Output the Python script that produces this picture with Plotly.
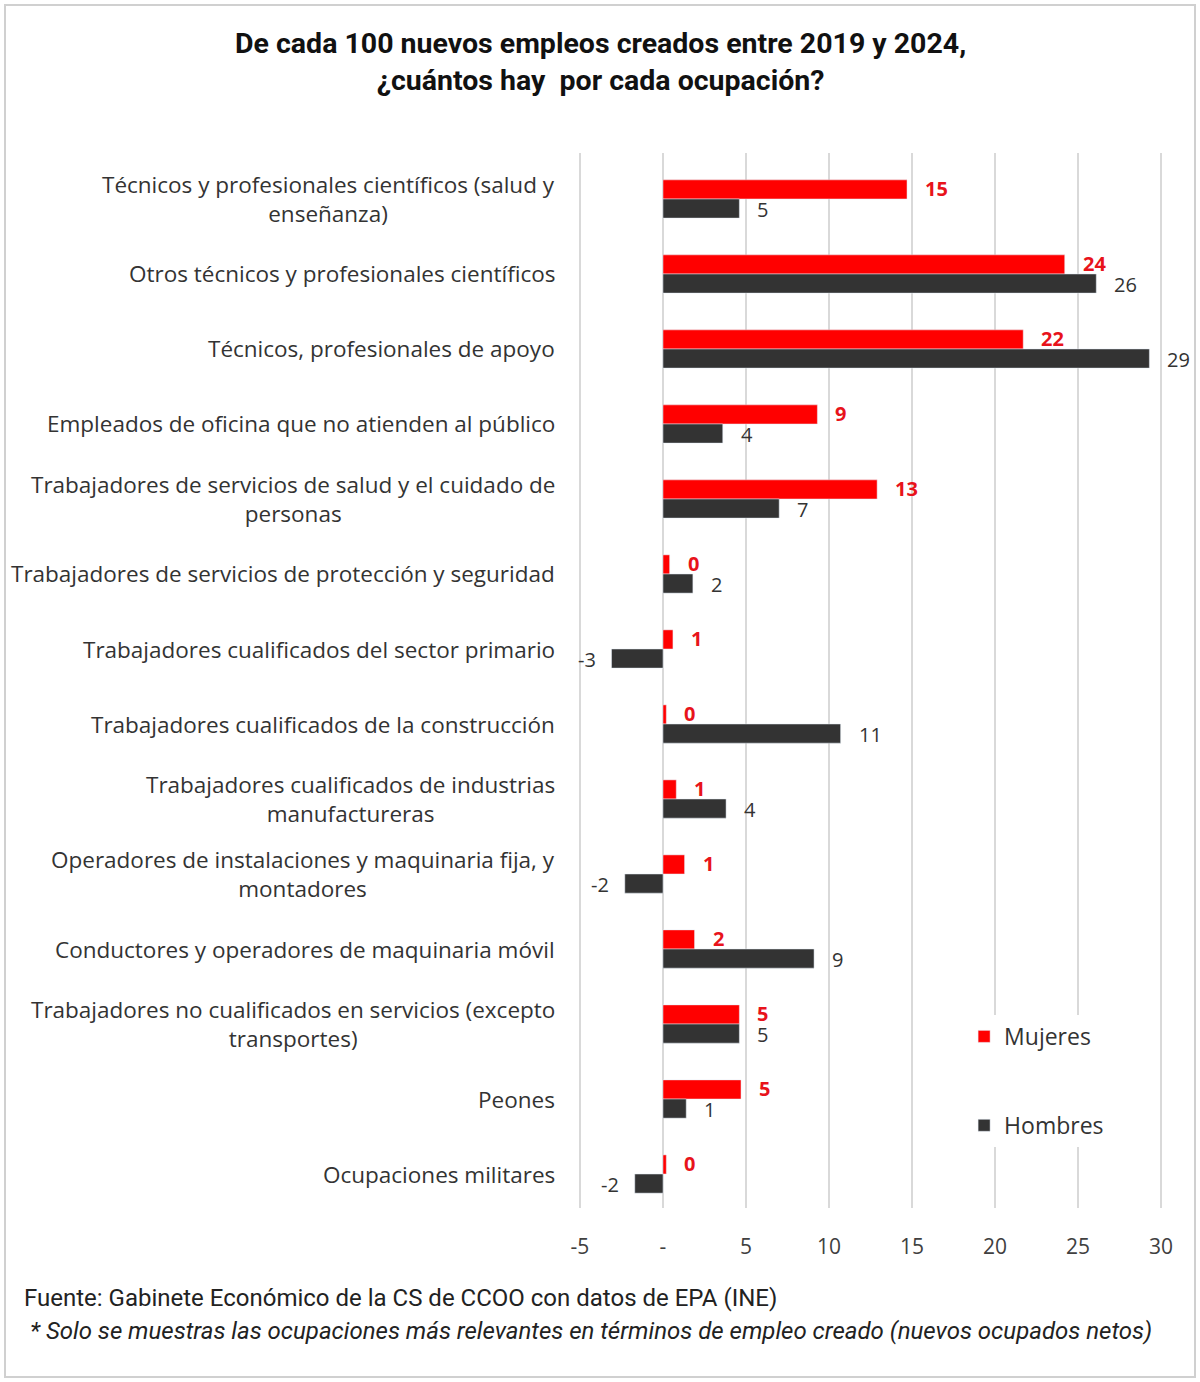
import plotly.graph_objects as go

categorias = [
    "Técnicos y profesionales científicos (salud y<br>enseñanza)",
    "Otros técnicos y profesionales científicos",
    "Técnicos, profesionales de apoyo",
    "Empleados de oficina que no atienden al público",
    "Trabajadores de servicios de salud y el cuidado de<br>personas",
    "Trabajadores de servicios de protección y seguridad",
    "Trabajadores cualificados del sector primario",
    "Trabajadores cualificados de la construcción",
    "Trabajadores cualificados de industrias<br>manufactureras",
    "Operadores de instalaciones y maquinaria fija, y<br>montadores",
    "Conductores y operadores de maquinaria móvil",
    "Trabajadores no cualificados en servicios (excepto<br>transportes)",
    "Peones",
    "Ocupaciones militares",
]
mujeres = [14.7, 24.2, 21.7, 9.3, 12.9, 0.4, 0.6, 0.2, 0.8, 1.3, 1.9, 4.6, 4.7, 0.2]
hombres = [4.6, 26.1, 29.3, 3.6, 7.0, 1.8, -3.1, 10.7, 3.8, -2.3, 9.1, 4.6, 1.4, -1.7]
tick_vals = [-5, 0, 5, 10, 15, 20, 25, 30]
tick_text = ["-5", "-", "5", "10", "15", "20", "25", "30"]

FONT = "Open Sans"
TFONT = "Roboto"
ROJO = "#FF0000"
GRIS = "#333333"

L, R, T, B = 578, 37, 153, 174

fig = go.Figure()
fig.add_trace(go.Bar(
    y=categorias, x=mujeres, orientation="h", name="Mujeres",
    marker_color=ROJO, legendgroup="m",
))
fig.add_trace(go.Bar(
    y=categorias, x=hombres, orientation="h", name="Hombres",
    marker_color=GRIS, legendgroup="h",
))

# category labels as centered multi-line annotations
for c in categorias:
    fig.add_annotation(
        x=0, xref="paper", y=c, yref="y", xanchor="right", xshift=557 - L,
        text=c, showarrow=False, align="center",
        font=dict(family=FONT, size=22.5, color="#333333"),
    )

# data labels
for serie, vals, color, dy, bold in [("m", mujeres, "#E8131B", 10.5, True),
                                     ("h", hombres, GRIS, -10.5, False)]:
    for c, v in zip(categorias, vals):
        txt = f"{round(v):d}"
        fig.add_annotation(
            x=v, xref="x", y=c, yref="y",
            xanchor="left" if v >= 0 else "right",
            xshift=17 if v >= 0 else -15, yshift=dy, borderpad=0,
            text=f"<b>{txt}</b>" if bold else txt, showarrow=False,
            font=dict(family=FONT, size=20, color=color),
        )

fig.update_layout(
    width=1200, height=1382,
    margin=dict(l=L, r=R, t=T, b=B),
    paper_bgcolor="white", plot_bgcolor="white",
    barmode="group", bargap=0.49, bargroupgap=0,
    showlegend=True,
    legend=dict(
        x=0.66, y=0.183, xanchor="left", yanchor="top",
        bgcolor="white", tracegroupgap=56,
        font=dict(family=FONT, size=23, color="#333333"),
        traceorder="grouped",
    ),
    font=dict(family=FONT, size=20, color="#404040"),
)
fig.update_yaxes(range=[13.453, -0.613], showticklabels=False, showgrid=False,
                 zeroline=False, showline=False, ticks="")
fig.update_xaxes(range=[-5.12, 30.12], tickvals=tick_vals, ticktext=tick_text,
                 showgrid=True, gridcolor="#D9D9D9", gridwidth=2,
                 zeroline=False, showline=False, ticks="", ticklabelstandoff=24,
                 tickfont=dict(family=FONT, size=21, color="#404040"))

# title
fig.add_annotation(
    x=(600 - L) / (1200 - L - R), xref="paper", y=1, yref="paper", yshift=T - 25,
    xanchor="center", yanchor="top", showarrow=False, align="center",
    text="<b>De cada 100 nuevos empleos creados entre 2019 y 2024,<br>¿cuántos hay  por cada ocupación?</b>",
    font=dict(family=TFONT, size=28.5, color="#111111"),
)
# footer
fig.add_annotation(
    x=0, xref="paper", y=0, yref="paper", xshift=22 - L, yshift=-(1298 - (1382 - B)),
    xanchor="left", yanchor="middle", showarrow=False,
    text="Fuente: Gabinete Económico de la CS de CCOO con datos de EPA (INE)",
    font=dict(family=TFONT, size=24, color="#222222"),
)
fig.add_annotation(
    x=0, xref="paper", y=0, yref="paper", xshift=28 - L, yshift=-(1331 - (1382 - B)),
    xanchor="left", yanchor="middle", showarrow=False,
    text="<i>* Solo se muestras las ocupaciones más relevantes en términos de empleo creado (nuevos ocupados netos)</i>",
    font=dict(family=TFONT, size=24, color="#222222"),
)
# outer border
pw, ph = 1200 - L - R, 1382 - T - B
fig.add_shape(type="rect", xref="paper", yref="paper",
              x0=(5 - L) / pw, x1=(1195 - L) / pw,
              y0=((1382 - B) - 1377) / ph, y1=((1382 - B) - 5) / ph,
              line=dict(color="#D0D0D0", width=2), fillcolor="rgba(0,0,0,0)")

fig.write_html("out.html", config={"displayModeBar": False},
               post_script="document.body.style.margin='0';")
